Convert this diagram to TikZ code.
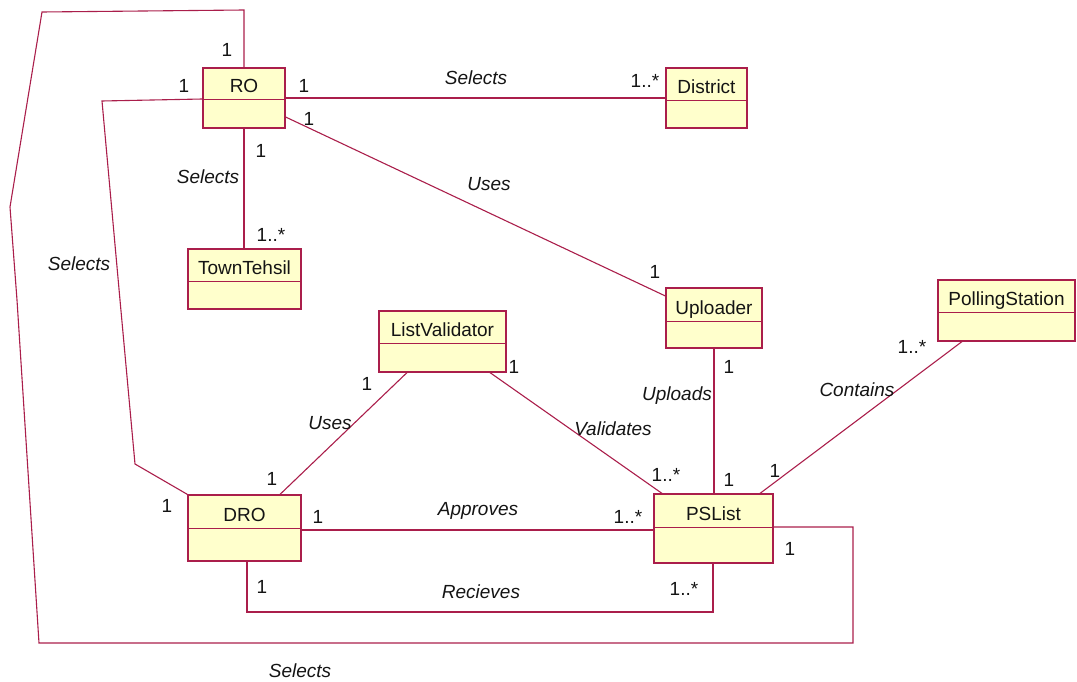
\documentclass[tikz,border=0pt]{standalone}
\usepackage{fontspec}
\setmainfont{Liberation Sans}
\usetikzlibrary{calc}
\definecolor{umlline}{RGB}{170,30,75}
\definecolor{umlfill}{RGB}{255,255,204}
\definecolor{umltext}{RGB}{20,20,20}
\tikzset{
  cls/.style={draw=umlline, fill=umlfill, line width=1.2pt, inner sep=0pt, rectangle},
  edge/.style={draw=umlline, line width=1.1pt},
  title/.style={font=\fontsize{19}{20}\selectfont, text=umltext, inner sep=0pt, anchor=base},
  mult/.style={font=\fontsize{19}{20}\selectfont, text=umltext, inner sep=0pt, anchor=base},
  role/.style={font=\fontsize{19}{20}\selectfont\itshape, text=umltext, inner sep=0pt, anchor=base},
}
% class box: name, left, top, width, height, header height, title
\newcommand\umlclass[7]{%
  \node[cls, minimum width=#4, minimum height=#5] (#1) at (#2+#4/2,#3+#5/2) {};
  \draw[edge] ($(#1.north west)+(0,#6)$) -- ($(#1.north east)+(0,#6)$);
  \node[title] at ($(#1.north)+(0,#6-7)$) {#7};
}
\begin{document}
\begin{tikzpicture}[x=1pt,y=-1pt]
\useasboundingbox (0,0) rectangle (1077,682);

% classes
\umlclass{ro}{203}{68}{82}{60}{32}{RO}
\umlclass{district}{666}{68}{81}{60}{33}{District}
\umlclass{town}{188}{249}{113}{60}{33}{TownTehsil}
\umlclass{uploader}{666}{288}{96}{60}{34}{Uploader}
\umlclass{polling}{938}{280}{137}{61}{33}{PollingStation}
\umlclass{validator}{379}{311}{127}{61}{33}{ListValidator}
\umlclass{dro}{188}{495}{113}{66}{34}{DRO}
\umlclass{pslist}{654}{494}{119}{69}{34}{PSList}

% RO -- District
\draw[edge] (ro.east |- 0,98) -- (district.west |- 0,98);
\node[mult] at (304,93) {1};
\node[mult] at (645,88) {1..*};
\node[role] at (476,85) {Selects};

% RO -- TownTehsil
\draw[edge] (ro.south) -- (ro.south |- town.north);
\node[mult] at (261,158) {1};
\node[mult] at (271,241) {1..*};
\node[role] at (208,183) {Selects};

% RO -- Uploader
\draw[edge] (ro.east |- 0,117) -- (uploader.west |- 0,296);
\node[mult] at (309,126) {1};
\node[mult] at (655,278) {1};
\node[role] at (489,191) {Uses};

% RO -- DRO
\draw[edge] (ro.west |- 0,99) -- (102,101) -- (120,300) -- (135,464) -- (dro.north west);
\node[mult] at (184,93) {1};
\node[mult] at (167,512) {1};
\node[role] at (79,270) {Selects};

% RO -- PSList (outer loop)
\draw[edge] (ro.north) -- (ro.north |- 0,10) -- (42,12) -- (10,207) -- (17,300)
  -- (39,643) -- (853,643) -- (853,527) -- (pslist.east |- 0,527);
\node[mult] at (227,57) {1};
\node[mult] at (790,555) {1};
\node[role] at (300,677) {Selects};

% ListValidator -- DRO
\draw[edge] (validator.south -| 407,0) -- (dro.north -| 280,0);
\node[mult] at (367,390) {1};
\node[mult] at (272,485) {1};
\node[role] at (330,429) {Uses};

% ListValidator -- PSList
\draw[edge] (validator.south -| 490,0) -- (pslist.north -| 662,0);
\node[mult] at (514,373) {1};
\node[mult] at (666,481) {1..*};
\node[role] at (613,435) {Validates};

% Uploader -- PSList
\draw[edge] (uploader.south) -- (uploader.south |- pslist.north);
\node[mult] at (729,373) {1};
\node[mult] at (729,486) {1};
\node[role] at (677,400) {Uploads};

% PollingStation -- PSList
\draw[edge] (polling.south -| 962,0) -- (pslist.north -| 760,0);
\node[mult] at (912,353) {1..*};
\node[mult] at (775,477) {1};
\node[role] at (857,396) {Contains};

% DRO -- PSList (approves)
\draw[edge] (dro.east |- 0,530) -- (pslist.west |- 0,530);
\node[mult] at (318,523) {1};
\node[mult] at (628,523) {1..*};
\node[role] at (478,515) {Approves};

% DRO -- PSList (receives)
\draw[edge] (dro.south -| 247,0) -- (247,612) -- (713,612) -- (pslist.south -| 713,0);
\node[mult] at (262,593) {1};
\node[mult] at (684,595) {1..*};
\node[role] at (481,598) {Recieves};
\end{tikzpicture}
\end{document}
